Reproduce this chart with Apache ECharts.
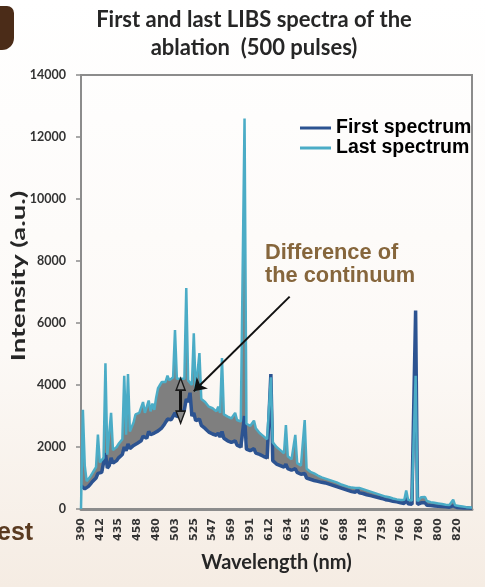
<!DOCTYPE html>
<html>
<head>
<meta charset="utf-8">
<script src="https://cdn.jsdelivr.net/npm/echarts@6/dist/echarts.min.js"></script>
<style>
html,body{margin:0;padding:0;background:#fff;}
#chart{width:485px;height:587px;}
</style>
</head>
<body>
<div id="chart"></div>
<script>
// Tick labels of the wavelength axis (nm), one every 10 samples
const tickLabels = [390, 412, 435, 458, 480, 503, 525, 547, 569, 591, 612, 634, 655, 676, 698, 718, 739, 760, 780, 800, 820];

// First spectrum intensities (a.u.), sample by sample
const firstSpectrum = [
750, 700, 650, 660, 730, 800, 880, 940, 1000, 1150,
1150, 1180, 1230, 1800, 1320, 1400, 1650, 1480, 1520, 1560,
1650, 1700, 1760, 2000, 1880, 2100, 1950, 1980, 2050, 2080,
2120, 2150, 2200, 2350, 2300, 2280, 2500, 2400, 2450, 2450,
2500, 2520, 2550, 2620, 2700, 2750, 2900, 2850, 2880, 2920,
3100, 2980, 3020, 3050, 3100, 3200, 3550, 3450, 3750, 3000,
3100, 2850, 2800, 2900, 2700, 2650, 2600, 2550, 2480, 2450,
2420, 2400, 2380, 2450, 2320, 2500, 2280, 2220, 2200, 2180,
2150, 2120, 2200, 2060, 2030, 2000, 1970, 3000, 1930, 1900,
1880, 1850, 1950, 1800, 1780, 1760, 1720, 1700, 1680, 1650,
1600, 4350, 1560, 1500, 1450, 1420, 1400, 1380, 1350, 1450,
1300, 1280, 1250, 1230, 1300, 1180, 1150, 1120, 1080, 1150,
1000, 980, 960, 940, 920, 910, 890, 870, 860, 850,
840, 820, 800, 780, 760, 740, 720, 700, 680, 660,
640, 620, 600, 580, 560, 550, 540, 620, 520, 510,
500, 480, 460, 450, 430, 420, 400, 390, 370, 350,
340, 320, 300, 290, 280, 270, 250, 240, 230, 220,
200, 190, 180, 350, 170, 160, 150, 150, 6400, 150,
140, 200, 220, 200, 120, 110, 110, 100, 100, 90,
90, 80, 80, 70, 70, 60, 60, 60, 100, 50,
50, 40, 40, 40, 30, 30, 30, 20, 20
];

// Last spectrum intensities (a.u.), sample by sample
const lastSpectrum = [
0, 3200, 1400, 900, 950, 1050, 1150, 1250, 1350, 2400,
1500, 1550, 1650, 4700, 1750, 1800, 3100, 1900, 1950, 2000,
2100, 2150, 2250, 4300, 2400, 4350, 2500, 2650, 2800, 3050,
3000, 3100, 3050, 3450, 3100, 3150, 3500, 3150, 3400, 3200,
3600, 3900, 4000, 4100, 4150, 4100, 4300, 4150, 4200, 4250,
5770, 4200, 4150, 4200, 4250, 4200, 7130, 4150, 4100, 4000,
5670, 3800, 3750, 5030, 3550, 3500, 3450, 3400, 3300, 3280,
3250, 3200, 3150, 3300, 3100, 4870, 3050, 3000, 2980, 2950,
2920, 2900, 3100, 2870, 2850, 2820, 2800, 12600, 2750, 2700,
2680, 2650, 2850, 2600, 2550, 2450, 2400, 2350, 2300, 2250,
2200, 4250, 2150, 2100, 2000, 1950, 1900, 1850, 1800, 2710,
1700, 1650, 1600, 1550, 2390, 1480, 1450, 1400, 1350, 2870,
1300, 1250, 1200, 1180, 1150, 1100, 1080, 1050, 1020, 1000,
980, 960, 940, 920, 900, 880, 860, 840, 800, 780,
760, 740, 720, 700, 690, 680, 680, 720, 680, 660,
640, 620, 600, 580, 560, 540, 520, 500, 480, 460,
440, 420, 400, 390, 380, 360, 340, 330, 310, 300,
290, 280, 300, 600, 300, 280, 270, 260, 4300, 250,
240, 380, 400, 390, 260, 230, 220, 210, 200, 190,
180, 170, 160, 150, 140, 150, 130, 120, 300, 120,
110, 100, 90, 80, 70, 60, 60, 50, 40
];

// Annotation anchors in data units [sample index, intensity]
const arrowFrom = [111, 6850];
const arrowTo = [60, 3800];
const diffTop = [53, 4030];
const diffBottom = [53, 2960];

const sampleIndex = firstSpectrum.map((_, i) => String(i));
const bandGap = lastSpectrum.map((v, i) => Math.max(0, v - firstSpectrum[i]));

const chart = echarts.init(document.getElementById('chart'), null, {renderer: 'canvas'});
chart.setOption({
  animation: false,
  backgroundColor: {
    type: 'linear', x: 0, y: 0, x2: 0, y2: 1,
    colorStops: [{offset: 0, color: '#ffffff'}, {offset: 0.6, color: '#fcf9f6'}, {offset: 1, color: '#f5ece3'}]
  },
  grid: {
    left: 81, right: 13, top: 75, bottom: 78,
    show: true, borderColor: '#8c8c8c', borderWidth: 2,
    containLabel: false, outerBoundsMode: 'none'
  },
  legend: {
    data: ['First spectrum', 'Last spectrum'],
    orient: 'vertical', left: 300, top: 118, padding: 0,
    itemGap: 0, itemWidth: 31, itemHeight: 3, icon: 'rect',
    textStyle: {fontFamily: 'Liberation Sans', fontWeight: 'bold', fontSize: 19.5, color: '#000', lineHeight: 18}
  },
  xAxis: {
    type: 'category', data: sampleIndex, boundaryGap: false,
    axisLine: {show: true, onZero: false, lineStyle: {color: '#8c8c8c', width: 3}},
    axisTick: {show: false},
    splitLine: {show: false},
    axisLabel: {
      interval: 9, rotate: 90, margin: 9, color: '#333', fontFamily: 'DejaVu Sans', fontWeight: 'bold', fontSize: 11,
      formatter: (v, idx) => (idx % 10 === 0 && tickLabels[idx / 10] !== undefined) ? String(tickLabels[idx / 10]) : ''
    },
    name: 'Wavelength (nm)', nameLocation: 'middle', nameGap: 44,
    nameTextStyle: {fontFamily: 'Lato', fontWeight: 'bold', fontSize: 20, color: '#262626'}
  },
  yAxis: {
    type: 'value', min: 0, max: 14000, interval: 2000,
    axisLine: {show: true, lineStyle: {color: '#8c8c8c', width: 2}},
    axisTick: {show: true, length: 5, lineStyle: {color: '#8c8c8c', width: 1.5}},
    splitLine: {show: false},
    axisLabel: {margin: 15, color: '#333', fontFamily: 'Lato', fontWeight: 'bold', fontSize: 12.5, formatter: v => String(v)}
  },
  series: [
    {
      name: 'band-base', type: 'line', stack: 'band', data: firstSpectrum,
      symbol: 'none', lineStyle: {opacity: 0}, silent: true, emphasis: {disabled: true}
    },
    {
      name: 'band', type: 'line', stack: 'band', data: bandGap,
      symbol: 'none', lineStyle: {opacity: 0}, areaStyle: {color: '#7f7f7f', opacity: 1},
      silent: true, emphasis: {disabled: true}
    },
    {
      name: 'First spectrum', type: 'line', data: firstSpectrum,
      symbol: 'none', color: '#2c5391', lineStyle: {color: '#2c5391', width: 3.5},
      silent: true, emphasis: {disabled: true}
    },
    {
      name: 'Last spectrum', type: 'line', data: lastSpectrum,
      symbol: 'none', color: '#4bacc6', lineStyle: {color: '#4bacc6', width: 2.5},
      silent: true, emphasis: {disabled: true},
      markLine: {
        silent: true, animation: false, label: {show: false},
        symbol: ['none', 'arrow'], symbolSize: 12,
        lineStyle: {color: '#111', width: 2, type: 'solid'},
        emphasis: {disabled: true},
        data: [
          [{coord: arrowFrom}, {coord: arrowTo}],
          [{coord: diffTop, symbol: 'none', lineStyle: {color: '#111', width: 3, type: 'solid'}},
           {coord: diffBottom, symbol: 'none'}]
        ]
      },
      markPoint: {
        silent: true, animation: false, label: {show: false},
        symbol: 'triangle', symbolSize: [9, 12],
        itemStyle: {color: '#8c8c8c', borderColor: '#1a1a1a', borderWidth: 1.5},
        data: [
          {coord: diffTop, symbolRotate: 0},
          {coord: diffBottom, symbolRotate: 180}
        ]
      }
    }
  ],
  graphic: [
    {type: 'rect', silent: true, shape: {x: -6, y: 6, width: 20, height: 44, r: [0, 7, 12, 0]}, style: {fill: '#4b2c18'}},
    {type: 'text', silent: true, x: 254, y: 20, style: {text: 'First and last LIBS spectra of the', font: 'bold 22px Lato', fill: '#262626', textAlign: 'center', align: 'center', textVerticalAlign: 'middle', verticalAlign: 'middle'}},
    {type: 'text', silent: true, x: 254, y: 48, style: {text: 'ablation  (500 pulses)', font: 'bold 22px Lato', fill: '#262626', textAlign: 'center', align: 'center', textVerticalAlign: 'middle', verticalAlign: 'middle'}},
    {type: 'text', silent: true, x: 19, y: 276, rotation: Math.PI / 2, scaleX: 1.52, style: {text: 'Intensity (a.u.)', font: 'bold 18px Lato', fill: '#262626', textAlign: 'center', align: 'center', textVerticalAlign: 'middle', verticalAlign: 'middle'}},
    {type: 'text', silent: true, x: 265, y: 253, style: {text: 'Difference of', font: 'bold 21.8px "Liberation Sans"', fill: '#86663c', textAlign: 'left', align: 'left', textVerticalAlign: 'middle', verticalAlign: 'middle'}},
    {type: 'text', silent: true, x: 265, y: 276, style: {text: 'the continuum', font: 'bold 21.8px "Liberation Sans"', fill: '#86663c', textAlign: 'left', align: 'left', textVerticalAlign: 'middle', verticalAlign: 'middle'}},
    {type: 'text', silent: true, x: -3, y: 533, style: {text: 'est', font: 'bold 25px "Liberation Sans"', fill: '#5a3a20', textAlign: 'left', align: 'left', textVerticalAlign: 'middle', verticalAlign: 'middle'}}
  ]
});
</script>
</body>
</html>
